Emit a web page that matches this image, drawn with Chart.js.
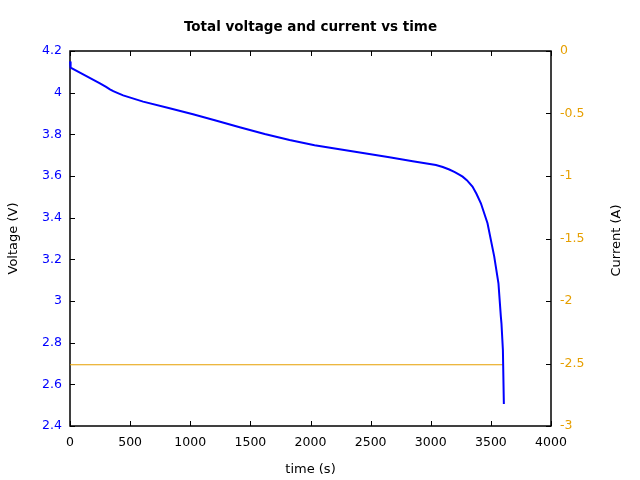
<!DOCTYPE html>
<html>
<head>
<meta charset="utf-8">
<script src="https://cdn.jsdelivr.net/npm/chart.js@4.4.1/dist/chart.umd.min.js"></script>
<style>
  html, body { margin: 0; padding: 0; background: #fff; }
  #wrap { width: 640px; height: 480px; }
</style>
</head>
<body>
<div id="wrap"><canvas id="chart"></canvas></div>
<script>
// voltage (time in s, volts)
const timeV = [0, 5, 125, 249, 300, 332, 360, 388, 442, 608, 820, 1023, 1219, 1411, 1619, 1826, 2034, 2241, 2449, 2656, 2850, 3043, 3100, 3154, 3200, 3237, 3265, 3300, 3347, 3380, 3417, 3472, 3528, 3563, 3583, 3588, 3600, 3608];
const voltage = [4.15, 4.12, 4.083, 4.045, 4.028, 4.016, 4.007, 4.0, 3.987, 3.957, 3.926, 3.896, 3.865, 3.834, 3.802, 3.773, 3.748, 3.728, 3.709, 3.69, 3.671, 3.653, 3.643, 3.631, 3.619, 3.607, 3.597, 3.58, 3.549, 3.515, 3.469, 3.373, 3.213, 3.085, 2.925, 2.893, 2.765, 2.506];
// constant discharge current
const timeI = [0, 3600];
const current = [-2.51, -2.51];

const blue = '#0000ff';
const orange = '#e69f00';
const fontFam = '"DejaVu Sans", sans-serif';

function pts(xs, ys) {
  return xs.map((x, i) => ({ x: x, y: ys[i] }));
}
function fmt(v) {
  return String(Number(v.toFixed(2)));
}

// gnuplot style frame with inward ticks, plus the right axis title
const frameTicks = {
  id: 'frameTicks',
  beforeDatasetsDraw(chart) {
    const ctx = chart.ctx, a = chart.chartArea, s = chart.scales;
    const len = 5;
    ctx.save();
    ctx.strokeStyle = '#000';
    ctx.lineWidth = 1;
    ctx.beginPath();
    s.x.ticks.forEach(t => {
      const px = Math.round(s.x.getPixelForValue(t.value)) + 0.5;
      ctx.moveTo(px, a.bottom); ctx.lineTo(px, a.bottom - len);
      ctx.moveTo(px, a.top); ctx.lineTo(px, a.top + len);
    });
    s.yV.ticks.forEach(t => {
      const py = Math.round(s.yV.getPixelForValue(t.value)) + 0.5;
      ctx.moveTo(a.left, py); ctx.lineTo(a.left + len, py);
    });
    s.yI.ticks.forEach(t => {
      const py = Math.round(s.yI.getPixelForValue(t.value)) + 0.5;
      ctx.moveTo(a.right, py); ctx.lineTo(a.right - len, py);
    });
    ctx.stroke();
    ctx.lineWidth = 1.5;
    ctx.strokeRect(a.left, a.top, a.right - a.left, a.bottom - a.top);
    ctx.restore();
  },
  afterDraw(chart) {
    const ctx = chart.ctx, a = chart.chartArea;
    ctx.save();
    ctx.translate(617, (a.top + a.bottom) / 2 + 2);
    ctx.rotate(-Math.PI / 2);
    ctx.font = '13px ' + fontFam;
    ctx.fillStyle = '#000';
    ctx.textAlign = 'center';
    ctx.textBaseline = 'middle';
    ctx.fillText('Current (A)', 0, 0);
    ctx.restore();
  }
};

new Chart(document.getElementById('chart').getContext('2d'), {
  type: 'line',
  data: {
    datasets: [{
      label: 'Voltage',
      data: pts(timeV, voltage),
      yAxisID: 'yV',
      borderColor: blue,
      borderWidth: 2,
      pointRadius: 0,
      tension: 0,
      clip: false
    }, {
      label: 'Current',
      data: pts(timeI, current),
      yAxisID: 'yI',
      borderColor: orange,
      borderWidth: 1,
      pointRadius: 0
    }]
  },
  options: {
    responsive: true,
    maintainAspectRatio: false,
    animation: false,
    layout: { padding: 0 },
    plugins: {
      legend: { display: false },
      tooltip: { enabled: false },
      title: {
        display: true,
        fullSize: false,
        text: 'Total voltage and current vs time',
        color: '#000',
        font: { family: fontFam, size: 13.5, weight: 'bold', lineHeight: 1.2 },
        padding: { top: 19, bottom: 15.8 }
      }
    },
    scales: {
      x: {
        type: 'linear',
        min: 0, max: 4000,
        grid: { display: false, drawTicks: false },
        border: { display: false },
        ticks: { stepSize: 500, color: '#000', padding: 9, maxRotation: 0,
          font: { family: fontFam, size: 12.5 }, callback: v => fmt(v) },
        title: { display: true, text: 'time (s)', color: '#000',
          font: { family: fontFam, size: 13 }, padding: { top: 0, bottom: 3 } },
        afterFit: s => { s.height = 54; }
      },
      yV: {
        type: 'linear',
        position: 'left',
        min: 2.4, max: 4.2,
        grid: { display: false, drawTicks: false },
        border: { display: false },
        ticks: { stepSize: 0.2, color: blue, padding: 8,
          font: { family: fontFam, size: 12.5 }, callback: v => fmt(v) },
        title: { display: true, text: 'Voltage (V)', color: '#000',
          font: { family: fontFam, size: 13 }, padding: { top: 6, bottom: 0 } },
        afterFit: s => { s.width = 70; }
      },
      yI: {
        type: 'linear',
        position: 'right',
        min: -3, max: 0,
        grid: { display: false, drawTicks: false },
        border: { display: false },
        ticks: { stepSize: 0.5, color: orange, padding: 9,
          font: { family: fontFam, size: 12.5 }, callback: v => fmt(v) },
        title: { display: false },
        afterFit: s => { s.width = 89; }
      }
    }
  },
  plugins: [frameTicks]
});
</script>
</body>
</html>
